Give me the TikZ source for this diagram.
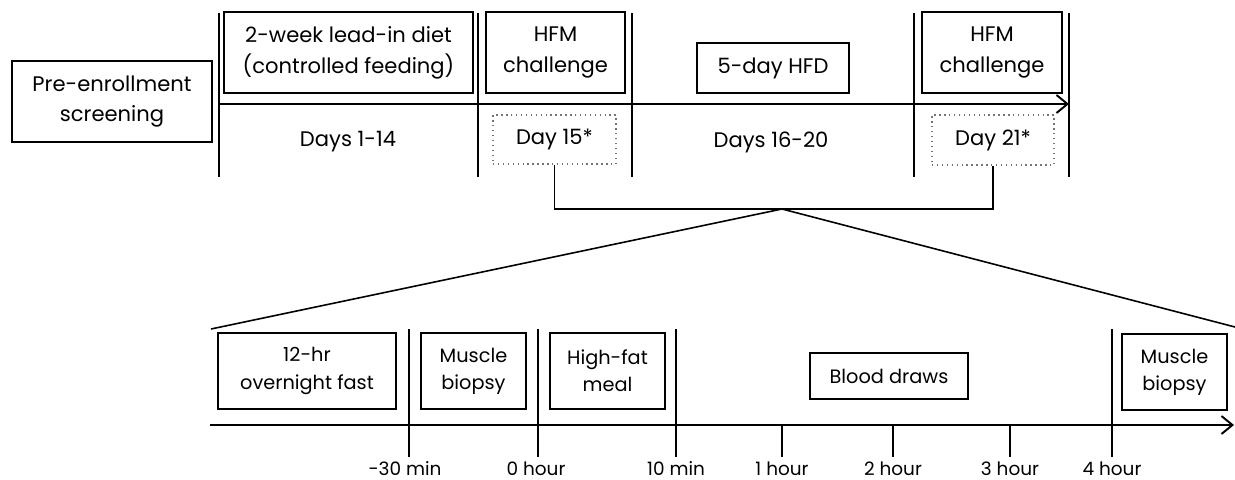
\documentclass[tikz,border=0pt]{standalone}
\usepackage{fontspec}
\setmainfont{Poppins}
\usepackage{tikz}
\usetikzlibrary{positioning, arrows, arrows.meta}
\tikzstyle{line} = [draw, line width=1.1pt]
\tikzstyle{timeline} = [draw, line width=1.1pt, -{Straight Barb[length=0.22cm, width=0.36cm]}]
\tikzstyle{block} = [rectangle, draw, line width=0.8pt, text centered, align=center,
    inner sep=0pt, font=\fontsize{12}{17.5}\selectfont]
\tikzstyle{dayblock} = [block, draw=black!55, dotted, line width=1.1pt]
\tikzstyle{step block} = [block, font=\fontsize{11}{15.5}\selectfont, minimum height=1.52cm]
\tikzstyle{label} = [font=\fontsize{12}{14}\selectfont]
\tikzstyle{mark label} = [anchor=base, font=\fontsize{10.5}{12}\selectfont]

\begin{document}
\begin{tikzpicture}[x=0.02cm, y=-0.02cm]
      \useasboundingbox (0,0) rectangle (1235,480);
      % Study timeline
      \node [block, minimum width=4cm, minimum height=1.62cm] (pre) at (112,101.5) {Pre-enrollment\\screening};
      \node [block, minimum width=4.98cm, minimum height=1.62cm] (lead) at (348.5,52.5) {2-week lead-in diet\\(controlled feeding)};
      \node [block, minimum width=2.78cm, minimum height=1.62cm] (hfmA) at (555.5,52.5) {HFM\\challenge};
      \node [block, minimum width=3.04cm, minimum height=1cm] (hfd) at (773,68) {5-day HFD};
      \node [block, minimum width=2.8cm, minimum height=1.62cm] (hfmB) at (992,52.5) {HFM\\challenge};
      \node [dayblock, minimum width=2.46cm, minimum height=0.98cm] (dayA) at (554.5,139.5) {Day 15*};
      \node [dayblock, minimum width=2.44cm, minimum height=1cm] (dayB) at (993,140) {Day 21*};
      \node [label] (daysA) at (348,142) {Days 1-14};
      \node [label] (daysB) at (771,142) {Days 16-20};
      \coordinate (startA) at (219,104);
      \coordinate (endA) at (1069,104);
      % Separators
      \path [line] (219,13) -- (219,177);
      \path [line] (478,13) -- (478,177);
      \path [line] (632,13) -- (632,177);
      \path [line] (914,13) -- (914,177);
      \path [line] (1069,13) -- (1069,177);
      \path [timeline] (startA) -- (endA);
      % Zoom into challenge day
      \coordinate (apex) at (782,209);
      \coordinate (zoomL) at (211,329);
      \coordinate (zoomR) at (1235,327);
      \draw [line width=0.9pt] (dayA.south) |- (apex) -| (dayB.south);
      \draw [line width=0.9pt] (zoomL) -- (apex) -- (zoomR);
      % Challenge day timeline
      \node [step block, minimum width=3.56cm] (fast) at (307,371) {12-hr\\overnight fast};
      \node [step block, minimum width=2.1cm] (biopA) at (473.5,371) {Muscle\\biopsy};
      \node [step block, minimum width=2.3cm] (meal) at (607.5,371) {High-fat\\meal};
      \node [step block, minimum width=3.16cm, minimum height=0.92cm] (blood) at (889,376) {Blood draws};
      \node [step block, minimum width=2.1cm] (biopB) at (1174.5,372) {Muscle\\biopsy};
      \coordinate (startB) at (210,425);
      \coordinate (endB) at (1234,425);
      \path [timeline] (startB) -- (endB);
      \path [line] (409,329) -- (409,457);
      \path [line] (538,329) -- (538,457);
      \path [line] (676,329) -- (676,457);
      \path [line] (782,425) -- (782,457);
      \path [line] (893,425) -- (893,457);
      \path [line] (1010,425) -- (1010,457);
      \path [line] (1112,329) -- (1112,457);
      \node [mark label] (m30) at (405,475) {-30 min};
      \node [mark label] (h0) at (536,475) {0 hour};
      \node [mark label] (m10) at (676,475) {10 min};
      \node [mark label] (h1) at (782,475) {1 hour};
      \node [mark label] (h2) at (893,475) {2 hour};
      \node [mark label] (h3) at (1010,475) {3 hour};
      \node [mark label] (h4) at (1112,475) {4 hour};
\end{tikzpicture}
\end{document}
